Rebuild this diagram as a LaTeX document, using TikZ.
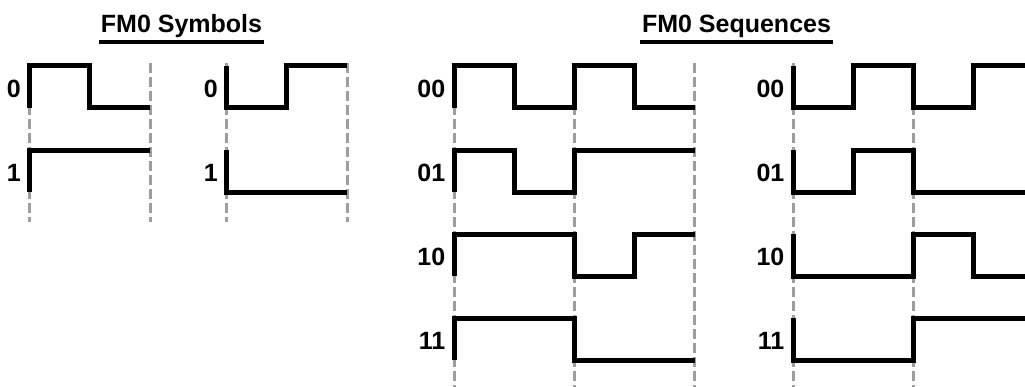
\documentclass[tikz,border=0pt]{standalone}
\usepackage{fontspec}
\setmainfont{Liberation Sans}

% one FM0 trace: x start, top of row, level before start, levels of the half bits
\newcommand\fmwave[4]{%
  \draw[sig] ({#1},{#2+42*(1-#3)}) \foreach \lv [count=\i] in {#4}{
    -- ({#1+60.2*(\i-1)},{#2+42*(1-\lv)}) -- ({#1+60.2*\i},{#2+42*(1-\lv)})};
}

\begin{document}
\begin{tikzpicture}[x=1pt,y=-1pt,
    sig/.style={line width=5pt},
    clk/.style={black!38,line width=3pt,dash pattern=on 10pt off 4pt},
    lbl/.style={font=\fontsize{25}{30}\selectfont\bfseries,inner sep=0pt},
    ttl/.style={lbl,anchor=base}]
    \useasboundingbox (0,0) rectangle (1025,386);

    \node[ttl] (tsym) at (181.5,32) {FM0 Symbols};
    \node[ttl] (tseq) at (736.5,32) {FM0 Sequences};
    \foreach \t in {tsym,tseq}{
        \draw[line width=4pt] ([xshift=-2pt,yshift=-9.5pt]\t.base west) -- ([xshift=2pt,yshift=-9.5pt]\t.base east);
    }

    % bit boundaries
    \foreach \x in {29.5,150,226.5,347}{
        \draw[clk] (\x,63) -- (\x,222);
    }
    \foreach \x in {454,574.4,694.8,793,913.4}{
        \draw[clk] (\x,63) -- (\x,390);
    }

    \foreach \x/\y/\t/\n in {29.5/65.5/0/s0,29.5/150/1/s1,226.5/65.5/0/t0,226.5/150/1/t1,
        454/65.5/00/p00,454/150/01/p01,454/234/10/p10,454/318/11/p11,
        793/65.5/00/q00,793/150/01/q01,793/234/10/q10,793/318/11/q11}{
        \node[lbl,anchor=east] (\n) at (\x-8.5,\y+23) {\t};
    }

    % symbols
    \fmwave{29.5}{65.5}{0}{1,0}
    \fmwave{29.5}{150}{0}{1,1}
    \fmwave{226.5}{65.5}{1}{0,1}
    \fmwave{226.5}{150}{1}{0,0}
    % sequences, starting high
    \fmwave{454}{65.5}{0}{1,0,1,0}
    \fmwave{454}{150}{0}{1,0,1,1}
    \fmwave{454}{234}{0}{1,1,0,1}
    \fmwave{454}{318}{0}{1,1,0,0}
    % sequences, starting low
    \fmwave{793}{65.5}{1}{0,1,0,1}
    \fmwave{793}{150}{1}{0,1,0,0}
    \fmwave{793}{234}{1}{0,0,1,0}
    \fmwave{793}{318}{1}{0,0,1,1}
\end{tikzpicture}
\end{document}
